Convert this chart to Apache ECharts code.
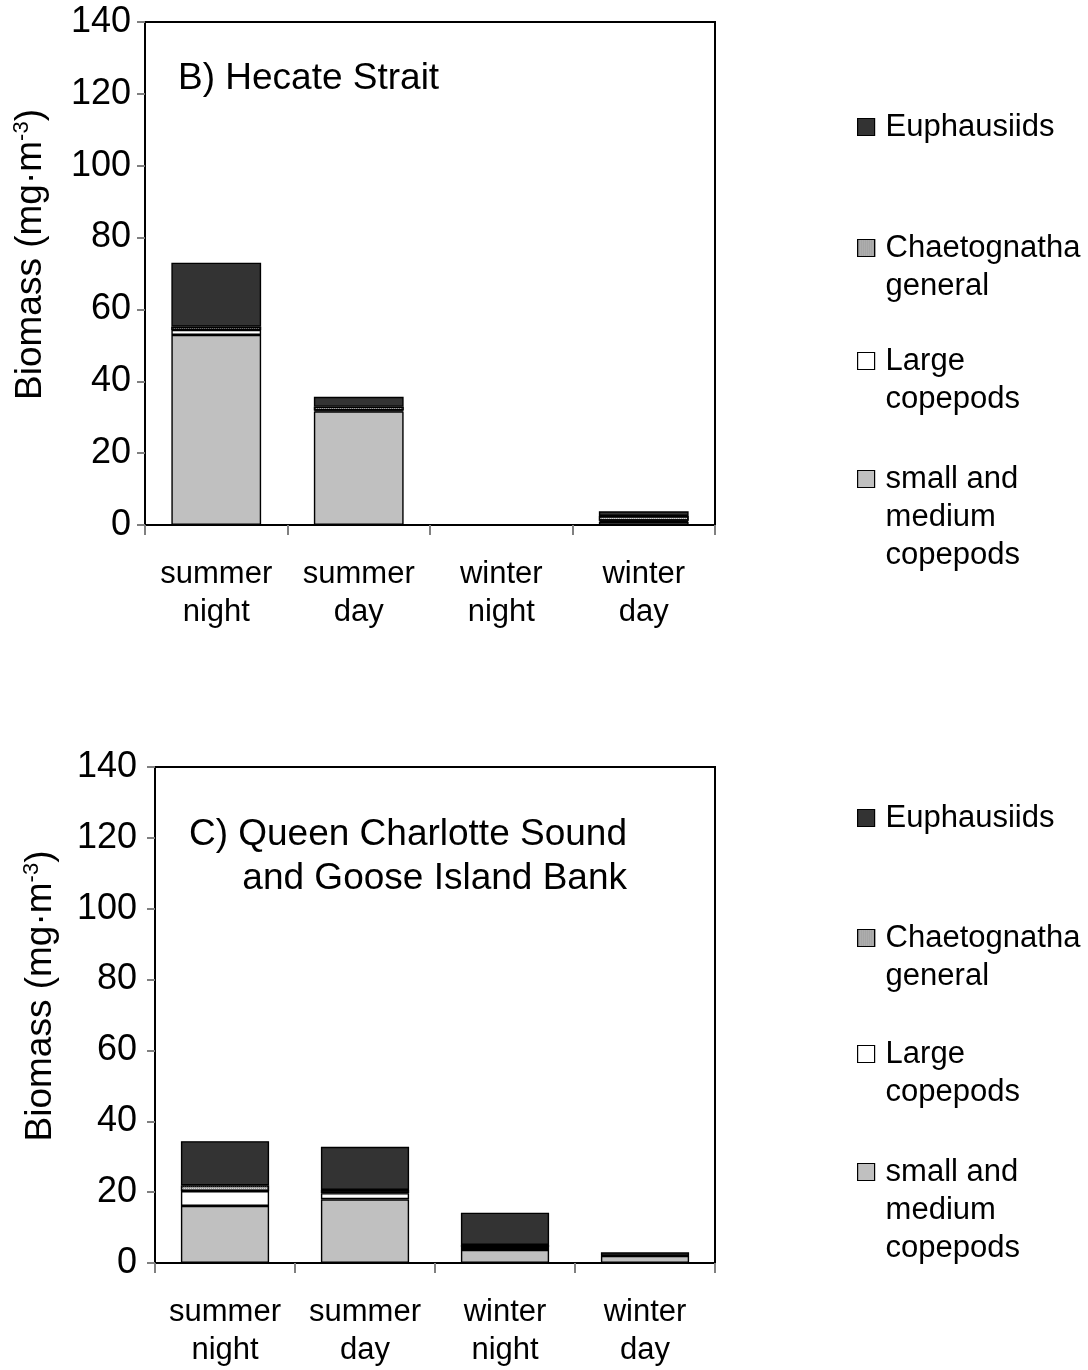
<!DOCTYPE html>
<html>
<head>
<meta charset="utf-8">
<script src="https://cdn.jsdelivr.net/npm/echarts@6/dist/echarts.min.js"></script>
<style>
html,body{margin:0;padding:0;background:#fff;}
#chart{width:1088px;height:1370px;}
</style>
</head>
<body>
<div id="chart"></div>
<script>
// ---- data ----
var categories = ['summer\nnight', 'summer\nday', 'winter\nnight', 'winter\nday'];
var yTicks = [0, 20, 40, 60, 80, 100, 120, 140];
var seriesNames = ['small and medium copepods', 'Large copepods', 'Chaetognatha general', 'Euphausiids'];
var legendLabels = ['small and\nmedium\ncopepods', 'Large\ncopepods', 'Chaetognatha\ngeneral', 'Euphausiids'];

// B) Hecate Strait
var hecateSmallMedium = [52.9, 31.6, 0, 0.9];
var hecateLarge       = [1.4, 0.3, 0, 0.3];
var hecateChaeto      = [0.9, 1.0, 0, 1.3];
var hecateEuphausiids = [17.8, 2.8, 0, 1.3];

// C) Queen Charlotte Sound and Goose Island Bank
var qcsSmallMedium = [16.1, 18.0, 3.7, 2.0];
var qcsLarge       = [4.2, 1.7, 0.8, 0.05];
var qcsChaeto      = [1.6, 0.9, 0.6, 0.05];
var qcsEuphausiids = [12.5, 12.2, 9.1, 0.9];

var titleB = ['B) Hecate Strait'];
var titleC = ['C) Queen Charlotte Sound', 'and Goose Island Bank'];

// ---- styling ----
var FONT = '"Liberation Sans", Arial, sans-serif';
var fills = ['#c0c0c0', '#ffffff', '#9a9a9a', '#333333'];
var chaetoDecal = {symbol: 'rect', symbolSize: 1, dashArrayX: [1, 1], dashArrayY: [1, 1], color: '#d8d8d8'};

var grids = [
  {left: 145, top: 22, width: 570, height: 503, show: true, borderColor: '#000', borderWidth: 2},
  {left: 155, top: 767, width: 560, height: 496, show: true, borderColor: '#000', borderWidth: 2}
];
var yLabelMargin = [14, 18];

function xAxis(gi) {
  return {
    type: 'category', gridIndex: gi, data: categories, boundaryGap: true,
    axisLine: {lineStyle: {color: '#000', width: 2}},
    axisTick: {show: true, interval: 0, alignWithLabel: false, length: 10, lineStyle: {color: '#808080', width: 2}},
    axisLabel: {interval: 0, fontFamily: FONT, fontSize: 31, lineHeight: 38, color: '#000', margin: 30}
  };
}
function yAxis(gi) {
  return {
    type: 'value', gridIndex: gi, min: yTicks[0], max: yTicks[yTicks.length - 1], interval: 20,
    axisLine: {show: true, lineStyle: {color: '#000', width: 2}},
    axisTick: {show: true, length: 8, lineStyle: {color: '#808080', width: 2}},
    axisLabel: {fontFamily: FONT, fontSize: 36, color: '#000', margin: yLabelMargin[gi]},
    splitLine: {show: false},
    name: '{a|Biomass (mg·m}{s|-3}{a|)}',
    nameLocation: 'middle', nameRotate: 90, nameGap: 94,
    nameTextStyle: {
      padding: [0, 0, 0, 38],
      rich: {
        a: {fontFamily: FONT, fontSize: 37, color: '#000', lineHeight: 40},
        s: {fontFamily: FONT, fontSize: 22, color: '#000', verticalAlign: 'top', lineHeight: 40}
      }
    }
  };
}

var groups = [
  [hecateSmallMedium, hecateLarge, hecateChaeto, hecateEuphausiids],
  [qcsSmallMedium, qcsLarge, qcsChaeto, qcsEuphausiids]
];
var series = [];
groups.forEach(function (g, gi) {
  g.forEach(function (vals, si) {
    var st = {color: fills[si], borderColor: '#000', borderWidth: 1.4};
    if (si === 2) st.decal = chaetoDecal;
    series.push({
      type: 'bar', name: seriesNames[si], stack: 'g' + gi,
      xAxisIndex: gi, yAxisIndex: gi, barWidth: '63%',
      data: vals, itemStyle: st, emphasis: {disabled: true}, animation: false
    });
  });
});

// legends: one per entry; blank lines before the label put the icon on its first line
var legendIconY = [[479, 361, 248, 127], [1172, 1054, 938, 818]];
var legends = [];
legendIconY.forEach(function (ys) {
  ys.forEach(function (y, si) {
    var lines = legendLabels[si].split('\n');
    var n = lines.length;
    var lh = 38;
    var txt = [];
    for (var k = 0; k < n - 1; k++) txt.push(' ');
    txt = txt.concat(lines).join('\n');
    legends.push({
      data: [seriesNames[si]], left: 857, top: y - (2 * n - 1) * lh / 2,
      orient: 'vertical', padding: 0, selectedMode: false,
      icon: 'rect', itemWidth: 17, itemHeight: 17, itemGap: 0,
      itemStyle: {borderColor: '#000', borderWidth: 1.2},
      formatter: function () { return txt; },
      textStyle: {fontFamily: FONT, fontSize: 31, lineHeight: lh, color: '#000', padding: [0, 0, 0, 6]}
    });
  });
});

var titleStyle = {fontFamily: FONT, fontSize: 37, fontWeight: 'normal', color: '#000'};
var option = {
  backgroundColor: '#fff',
  animation: false,
  title: [
    {text: titleB[0], left: 178, top: 60, padding: 0, textStyle: titleStyle},
    {text: titleC[0], right: 461, top: 816, padding: 0, textStyle: titleStyle},
    {text: titleC[1], right: 461, top: 860, padding: 0, textStyle: titleStyle}
  ],
  grid: grids,
  xAxis: [xAxis(0), xAxis(1)],
  yAxis: [yAxis(0), yAxis(1)],
  legend: legends,
  series: series
};

var chart = echarts.init(document.getElementById('chart'), null, {renderer: 'canvas'});
chart.setOption(option);
</script>
</body>
</html>
